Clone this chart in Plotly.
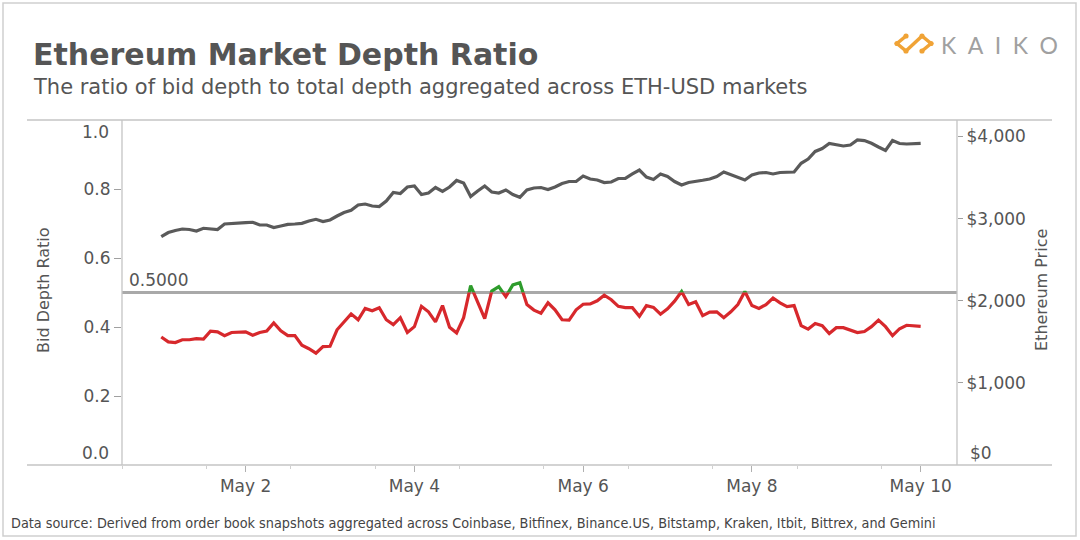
import plotly.graph_objects as go
import pandas as pd

# ---------------- data ----------------
start_time = "2021-05-01 00:00"
step_hours = 2

eth_price = [
    2779, 2830, 2855, 2873, 2867, 2849, 2882, 2873, 2867, 2934,
    2942, 2942, 2950, 2955, 2922, 2922, 2891, 2910, 2930, 2934,
    2942, 2970, 2991, 2964, 2983, 3031, 3074, 3101, 3165, 3177,
    3153, 3147, 3214, 3317, 3305, 3384, 3397, 3293, 3311, 3378,
    3330, 3384, 3464, 3433, 3269, 3336, 3397, 3324, 3311, 3348,
    3293, 3259, 3348, 3372, 3378, 3354, 3384, 3427, 3451, 3451,
    3518, 3482, 3470, 3439, 3445, 3488, 3490, 3543, 3591, 3506,
    3476, 3543, 3512, 3451, 3409, 3439, 3457, 3466, 3482, 3512,
    3567, 3537, 3500, 3470, 3530, 3555, 3561, 3543, 3561, 3561,
    3567, 3673, 3725, 3817, 3853, 3914, 3896, 3884, 3896, 3957,
    3950, 3916, 3871, 3829, 3950, 3914, 3908, 3914, 3916,
]

bid_depth_ratio = [
    0.371, 0.357, 0.355, 0.363, 0.363, 0.366, 0.365, 0.388, 0.386, 0.375,
    0.384, 0.385, 0.386, 0.376, 0.384, 0.388, 0.412, 0.389, 0.375, 0.375,
    0.347, 0.337, 0.324, 0.343, 0.344, 0.392, 0.414, 0.438, 0.421, 0.454,
    0.447, 0.456, 0.421, 0.407, 0.427, 0.384, 0.401, 0.460, 0.444, 0.415,
    0.462, 0.399, 0.383, 0.427, 0.520, 0.470, 0.424, 0.504, 0.517, 0.488,
    0.522, 0.528, 0.465, 0.449, 0.440, 0.470, 0.450, 0.421, 0.420, 0.450,
    0.466, 0.467, 0.476, 0.492, 0.479, 0.460, 0.456, 0.456, 0.431, 0.462,
    0.457, 0.437, 0.453, 0.475, 0.503, 0.465, 0.473, 0.433, 0.443, 0.444,
    0.427, 0.444, 0.465, 0.503, 0.462, 0.454, 0.465, 0.484, 0.470, 0.459,
    0.462, 0.404, 0.394, 0.410, 0.404, 0.381, 0.398, 0.398, 0.392, 0.384,
    0.387, 0.401, 0.420, 0.401, 0.375, 0.395, 0.405, 0.404, 0.402,
]

threshold = 0.5
ratio_ticks = [0.2, 0.4, 0.6, 0.8]
price_ticks = [1000, 2000, 3000, 4000]
date_tick0 = "2021-05-02"
x_range = ["2021-04-30 12:50", "2021-05-10 10:20"]

times = pd.date_range(start_time, periods=len(eth_price), freq=f"{step_hours}h")

# ---------------- geometry helpers (pixel -> paper) ----------------
W, H = 1080, 540
L, R, T, B = 122, 957, 120, 465


def px(x):
    return (x - L) / (R - L)


def py(y):
    return (B - y) / (B - T)


TXT = "#555555"
FONT = "DejaVu Sans"
RED = "#d7282c"
GREEN = "#2e9c2c"
GREY_LINE = "#5a5a5a"

fig = go.Figure()

fig.add_trace(go.Scatter(
    x=times, y=eth_price, yaxis="y2", mode="lines",
    line=dict(color=GREY_LINE, width=3.2), hoverinfo="skip", showlegend=False,
))
# ratio below threshold (red) and above threshold (green), clipped by sub-axes
fig.add_trace(go.Scatter(
    x=times, y=bid_depth_ratio, yaxis="y4", mode="lines",
    line=dict(color=RED, width=3.2), hoverinfo="skip", showlegend=False,
))
fig.add_trace(go.Scatter(
    x=times, y=bid_depth_ratio, yaxis="y3", mode="lines",
    line=dict(color=GREEN, width=3.2), hoverinfo="skip", showlegend=False,
))

axis_font = dict(family=FONT, size=17, color=TXT)

fig.update_layout(
    width=W, height=H,
    margin=dict(l=L, r=W - R, t=T, b=H - B, autoexpand=False),
    paper_bgcolor="white", plot_bgcolor="rgba(0,0,0,0)",
    showlegend=False,
    xaxis=dict(
        type="date", range=x_range, showgrid=False, zeroline=False, showline=False,
        tick0=date_tick0, dtick=2 * 86400000, tickformat="%b %-d",
        ticks="outside", ticklen=6, tickwidth=1, tickcolor="#b0b0b0",
        tickfont=axis_font,
        minor=dict(tick0=x_range[0], dtick=86400000, ticks="outside", ticklen=3,
                   tickcolor="#d0d0d0", showgrid=False),
    ),
    yaxis=dict(
        range=[0, 1], tickvals=ratio_ticks, ticktext=[f"{v:.1f}" for v in ratio_ticks],
        showgrid=False, zeroline=False, showline=False,
        ticks="outside", ticklen=7, tickcolor="#a0a0a0", tickfont=axis_font,
    ),
    yaxis2=dict(
        range=[0, 4200], overlaying="y", side="right", tickvals=price_ticks,
        ticktext=[f"${v:,}" for v in price_ticks],
        showgrid=False, zeroline=False, showline=False,
        ticks="outside", ticklen=5, tickcolor="#a0a0a0", tickfont=axis_font,
    ),
    yaxis3=dict(domain=[0.5, 1], range=[0.5, 1], visible=False, anchor="x"),
    yaxis4=dict(domain=[0, 0.5], range=[0, 0.5], visible=False, anchor="x"),
)

line_grey = "#c4c4c4"
shapes = [
    # outer frame
    dict(type="rect", xref="paper", yref="paper", x0=px(3), x1=px(1076), y0=py(3), y1=py(536),
         line=dict(color="#cfcfcf", width=1.5), layer="below"),
    # top and bottom rules of the plot box
    dict(type="line", xref="paper", yref="paper", x0=px(27), x1=px(1052), y0=py(120), y1=py(120),
         line=dict(color=line_grey, width=1.3)),
    dict(type="line", xref="paper", yref="paper", x0=px(27), x1=px(1052), y0=py(465), y1=py(465),
         line=dict(color=line_grey, width=1.3)),
    # left and right axis lines
    dict(type="line", xref="paper", yref="paper", x0=0, x1=0, y0=0, y1=1,
         line=dict(color=line_grey, width=1.3)),
    dict(type="line", xref="paper", yref="paper", x0=1, x1=1, y0=0, y1=1,
         line=dict(color=line_grey, width=1.3)),
    # threshold rule
    dict(type="line", xref="paper", yref="y", x0=0, x1=1, y0=threshold, y1=threshold,
         line=dict(color="#a9a9a9", width=3), layer="below"),
]

# KAIKO logo glyph
ORANGE = "#f0a336"


def pth(points):
    return "M " + " L ".join(f"{px(a)},{py(b)}" for a, b in points)


logo_paths = [
    [(906, 36), (897, 43.5), (906, 51)],
    [(922, 36), (931, 43.5), (922, 51)],
    [(907, 50), (921, 37)],
]
for pts in logo_paths:
    shapes.append(dict(type="path", xref="paper", yref="paper", path=pth(pts),
                       line=dict(color=ORANGE, width=3.5)))
for (cx, cy) in [(906, 36), (897, 43.5), (906, 51), (922, 36), (931, 43.5), (922, 51)]:
    shapes.append(dict(type="circle", xref="paper", yref="paper",
                       x0=px(cx - 2.6), x1=px(cx + 2.6), y0=py(cy - 2.6), y1=py(cy + 2.6),
                       fillcolor=ORANGE, line=dict(width=0)))

fig.update_layout(shapes=shapes)

annotations = [
    dict(text="<b>Ethereum Market Depth Ratio</b>", x=px(31), y=py(54), xanchor="left", yanchor="middle",
         font=dict(family=FONT, size=30, color=TXT)),
    dict(text="The ratio of bid depth to total depth aggregated across ETH-USD markets",
         x=px(31), y=py(87), xanchor="left", yanchor="middle",
         font=dict(family=FONT, size=21, color=TXT)),
    dict(text="K\u2002A\u2002I\u2002K\u2002O", x=px(939), y=py(45), xanchor="left", yanchor="middle",
         font=dict(family="Lato", size=23, color="#a0a0a0")),
    dict(text="Bid Depth Ratio", x=px(43), y=py(290), xanchor="center", yanchor="middle",
         textangle=-90, font=dict(family=FONT, size=16, color=TXT)),
    dict(text="Ethereum Price", x=px(1041), y=py(290), xanchor="center", yanchor="middle",
         textangle=-90, font=dict(family=FONT, size=16, color=TXT)),
    dict(text="0.5000", x=px(127), y=threshold, yref="y", xanchor="left", yanchor="bottom",
         yshift=1, font=dict(family=FONT, size=17, color=TXT)),
    dict(text="1.0", x=px(111), y=1, yref="y", xanchor="right", yanchor="middle", yshift=-12,
         font=axis_font),
    dict(text="0.0", x=px(111), y=0, yref="y", xanchor="right", yanchor="middle", yshift=12,
         font=axis_font),
    dict(text="$0", x=px(968), y=0, yref="y2", xanchor="left", yanchor="middle", yshift=12,
         font=axis_font),
    dict(text="Data source: Derived from order book snapshots aggregated across Coinbase, Bitfinex, "
              "Binance.US, Bitstamp, Kraken, Itbit, Bittrex, and Gemini",
         x=px(9), y=py(523), xanchor="left", yanchor="middle",
         font=dict(family="DejaVu Sans Condensed", size=14.3, color="#444444")),
]
for a in annotations:
    a.setdefault("xref", "paper")
    a.setdefault("yref", "paper")
    a["showarrow"] = False
fig.update_layout(annotations=annotations)

fig.write_html("out.html", config={"displayModeBar": False, "displaylogo": False},
               post_script="document.body.style.margin='0';")
